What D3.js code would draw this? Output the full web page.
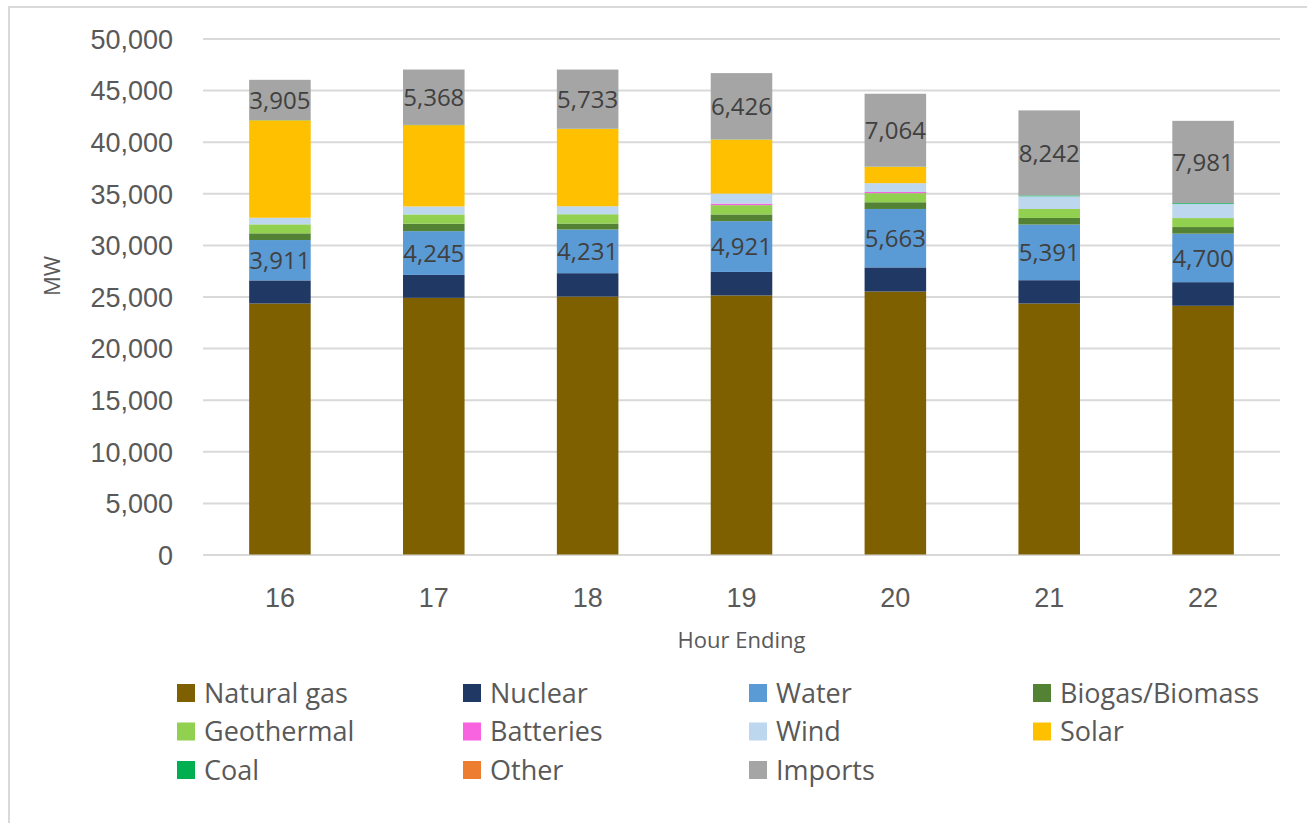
<!DOCTYPE html>
<html>
<head>
<meta charset="utf-8">
<script src="https://cdn.jsdelivr.net/npm/d3@7"></script>
<style>
  body { margin: 0; background: #fff; }
  svg { font-family: "Open Sans", sans-serif; }
</style>
</head>
<body>
<div id="chart"></div>
<script>
// Data (MW by hour ending)
var hours = ["16", "17", "18", "19", "20", "21", "22"];
var naturalGas = [24320, 24870, 24990, 25100, 25480, 24320, 24100];
var nuclear    = [2240, 2220, 2270, 2280, 2340, 2260, 2290];
var water      = [3911, 4245, 4231, 4921, 5663, 5391, 4700];
var biogas     = [650, 716, 580, 650, 650, 640, 640];
var geothermal = [870, 900, 900, 900, 880, 870, 870];
var batteries  = [0, 0, 0, 150, 120, 0, 0];
var wind       = [640, 775, 775, 970, 850, 1230, 1360];
var solar      = [9440, 7880, 7490, 5230, 1580, 0, 0];
var coal       = [20, 20, 20, 20, 20, 80, 80];
var other      = [0, 0, 0, 0, 0, 0, 0];
var imports    = [3905, 5368, 5733, 6426, 7064, 8242, 7981];
var yTicks     = [0, 5000, 10000, 15000, 20000, 25000, 30000, 35000, 40000, 45000, 50000];

var series = [
    {name: "Natural gas",    values: naturalGas, color: "#7F6000"},
    {name: "Nuclear",        values: nuclear,    color: "#203864"},
    {name: "Water",          values: water,      color: "#5B9BD5", label: true},
    {name: "Biogas/Biomass", values: biogas,     color: "#548235"},
    {name: "Geothermal",     values: geothermal, color: "#92D050"},
    {name: "Batteries",      values: batteries,  color: "#F864E0"},
    {name: "Wind",           values: wind,       color: "#BDD7EE"},
    {name: "Solar",          values: solar,      color: "#FFC000"},
    {name: "Coal",           values: coal,       color: "#00B050"},
    {name: "Other",          values: other,      color: "#ED7D31"},
    {name: "Imports",        values: imports,    color: "#A5A5A5", label: true}
];

// Table for d3.stack
var table = hours.map(function (h, i) {
    var row = {hour: h};
    series.forEach(function (s) { row[s.name] = s.values[i]; });
    return row;
});

var W = 1307, H = 823;
var margin = {top: 38.5, left: 203, right: 27, bottom: 268.5};

var svg = d3.select("#chart").append("svg")
    .attr("width", W)
    .attr("height", H);

// chart area border
svg.append("rect")
    .attr("x", 9).attr("y", 7)
    .attr("width", W + 20).attr("height", H + 20)
    .attr("fill", "none")
    .attr("stroke", "#d9d9d9")
    .attr("stroke-width", 2);

var x = d3.scaleBand()
    .domain(hours)
    .range([margin.left, W - margin.right])
    .paddingInner(0.6)
    .paddingOuter(0.3);

var y = d3.scaleLinear()
    .domain([0, 50000])
    .range([H - margin.bottom, margin.top]);

// Gridlines + y labels
var yAxis = svg.append("g")
    .attr("transform", "translate(" + margin.left + ",0)")
    .call(d3.axisLeft(y)
        .tickValues(yTicks)
        .tickFormat(d3.format(","))
        .tickSize(-(W - margin.right - margin.left))
        .tickPadding(30));
yAxis.select(".domain").remove();
yAxis.selectAll("line").attr("stroke", "#d9d9d9").attr("stroke-width", 2);
yAxis.selectAll("text")
    .attr("fill", "#595959")
    .style("font-size", "27px")
    .attr("dy", "0.36em");

// x labels
var xAxis = svg.append("g")
    .attr("transform", "translate(0," + y(0) + ")")
    .call(d3.axisBottom(x).tickSize(0));
xAxis.select(".domain").remove();
xAxis.selectAll("text")
    .attr("y", 52)
    .attr("dy", 0)
    .attr("fill", "#595959")
    .style("font-size", "27px");

// Stacked bars
var stack = d3.stack().keys(series.map(function (s) { return s.name; }));
var layers = stack(table);

var layer = svg.append("g").selectAll("g")
    .data(layers)
    .enter().append("g")
    .attr("fill", function (d, i) { return series[i].color; });

layer.selectAll("rect")
    .data(function (d) { return d; })
    .enter().append("rect")
    .attr("x", function (d) { return x(d.data.hour); })
    .attr("y", function (d) { return y(d[1]); })
    .attr("width", x.bandwidth())
    .attr("height", function (d) { return y(d[0]) - y(d[1]); });

// Data labels on Water and Imports
layers.forEach(function (l, i) {
    if (!series[i].label) return;
    svg.append("g").selectAll("text")
        .data(l)
        .enter().append("text")
        .attr("x", function (d) { return x(d.data.hour) + x.bandwidth() / 2; })
        .attr("y", function (d) { return (y(d[0]) + y(d[1])) / 2; })
        .attr("dy", "0.36em")
        .attr("text-anchor", "middle")
        .attr("fill", "#404040")
        .style("font-size", "24px")
        .text(function (d) { return d3.format(",")(d[1] - d[0]); });
});

// Axis titles
svg.append("text")
    .attr("x", x("19") + x.bandwidth() / 2)
    .attr("y", 648)
    .attr("text-anchor", "middle")
    .attr("fill", "#595959")
    .style("font-size", "22px")
    .text("Hour Ending");

svg.append("text")
    .attr("transform", "translate(60,276) rotate(-90)")
    .attr("text-anchor", "middle")
    .attr("fill", "#595959")
    .style("font-size", "22px")
    .text("MW");

// Legend
var legendCols = [177, 463, 749, 1033],
    legendRows = [693, 731.5, 770];

var legend = svg.append("g").selectAll("g")
    .data(series)
    .enter().append("g")
    .attr("transform", function (d, i) {
        return "translate(" + legendCols[i % 4] + "," + legendRows[Math.floor(i / 4)] + ")";
    });

legend.append("rect")
    .attr("x", 0).attr("y", -9)
    .attr("width", 18).attr("height", 18)
    .attr("fill", function (d) { return d.color; });

legend.append("text")
    .attr("x", 27)
    .attr("dy", "0.36em")
    .attr("fill", "#595959")
    .style("font-size", "27px")
    .text(function (d) { return d.name; });
</script>
</body>
</html>
